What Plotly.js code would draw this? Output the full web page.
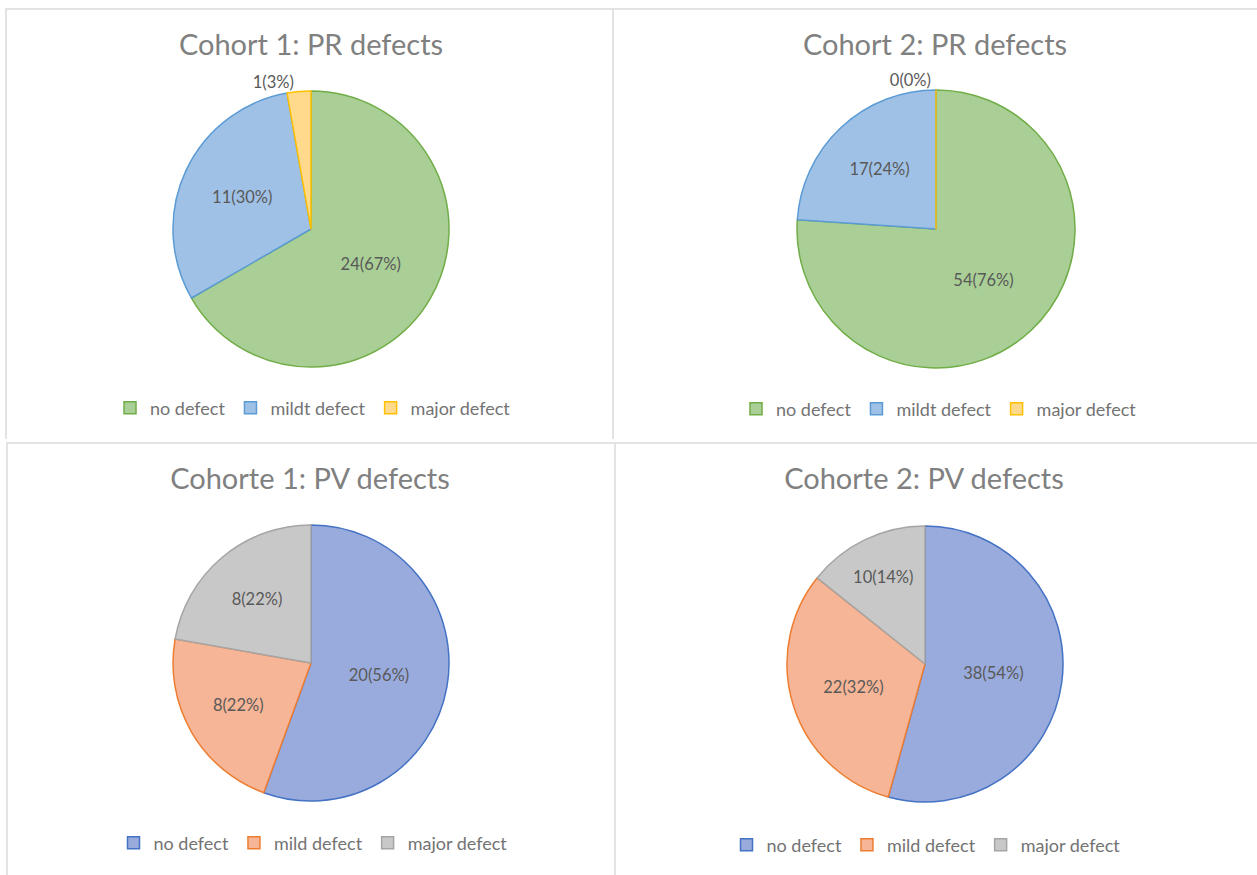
<!DOCTYPE html>
<html>
<head>
<meta charset="utf-8">
<script src="https://cdn.plot.ly/plotly-3.0.1.min.js"></script>
<style>
  html, body { margin: 0; padding: 0; background: #ffffff; width: 1257px; height: 875px; overflow: hidden; position: relative; }
  .panel { position: absolute; }
  .rule { position: absolute; background: #e3e3e3; }
</style>
</head>
<body>
<div class="rule" style="left:5px;top:8px;width:1252px;height:2px;"></div>
<div class="rule" style="left:5px;top:8px;width:2px;height:431px;"></div>
<div class="rule" style="left:612px;top:8px;width:2px;height:431px;"></div>
<div class="rule" style="left:6px;top:442px;width:1251px;height:2px;"></div>
<div class="rule" style="left:6px;top:442px;width:2px;height:433px;"></div>
<div class="rule" style="left:614px;top:442px;width:2px;height:433px;"></div>

<div id="p1" class="panel" style="left:7px;top:10px;width:605px;height:429px;"></div>
<div id="p2" class="panel" style="left:614px;top:10px;width:643px;height:429px;"></div>
<div id="p3" class="panel" style="left:8px;top:444px;width:606px;height:431px;"></div>
<div id="p4" class="panel" style="left:616px;top:444px;width:641px;height:431px;"></div>

<script>
// ---- data ----
const prLabels = ["no defect", "mildt defect", "major defect"];
const pvLabels = ["no defect", "mild defect", "major defect"];

const cohort1PRValues = [24, 11, 1];
const cohort1PRPercent = ["67%", "30%", "3%"];
const cohort2PRValues = [54, 17, 0];
const cohort2PRPercent = ["76%", "24%", "0%"];

const cohort1PVValues = [20, 8, 8];
const cohort1PVPercent = ["56%", "22%", "22%"];
const cohort2PVValues = [38, 22, 10];
const cohort2PVPercent = ["54%", "32%", "14%"];

const titles = ["Cohort 1: PR defects", "Cohort 2: PR defects", "Cohorte 1: PV defects", "Cohorte 2: PV defects"];

// ---- styles ----
const prFill = ["#aacf96", "#a0c1e6", "#ffda8c"];
const prLine = ["#70ad47", "#5b9bd5", "#ffc000"];
const pvFill = ["#99abdc", "#f5b596", "#c8c8c8"];
const pvLine = ["#4472c4", "#ed7d31", "#a5a5a5"];

const FONT = "Lato, 'Open Sans', sans-serif";

const panels = [
  {id: "p1", W: 605, H: 429, cx: 304, cy: 219, r: 138, tx: 304, ty: 35, lx: 306, ly: 398,
   labels: prLabels, values: cohort1PRValues, pct: cohort1PRPercent, fill: prFill, line: prLine,
   pos: ["inside", "inside", "outside"], title: titles[0]},
  {id: "p2", W: 643, H: 429, cx: 322, cy: 219, r: 139, tx: 321, ty: 35, lx: 325, ly: 399,
   labels: prLabels, values: cohort2PRValues, pct: cohort2PRPercent, fill: prFill, line: prLine,
   pos: ["inside", "inside", "outside"], title: titles[1]},
  {id: "p3", W: 606, H: 431, cx: 303, cy: 219, r: 138, tx: 302, ty: 35, lx: 305, ly: 399,
   labels: pvLabels, values: cohort1PVValues, pct: cohort1PVPercent, fill: pvFill, line: pvLine,
   pos: ["inside", "inside", "inside"], title: titles[2]},
  {id: "p4", W: 641, H: 431, cx: 309, cy: 220, r: 138, tx: 308, ty: 35, lx: 310, ly: 401,
   labels: pvLabels, values: cohort2PVValues, pct: cohort2PVPercent, fill: pvFill, line: pvLine,
   pos: ["inside", "inside", "inside"], title: titles[3]}
];

panels.forEach(p => {
  const trace = {
    type: "pie",
    labels: p.labels,
    values: p.values,
    text: p.pct,
    texttemplate: "%{value}(%{text})",
    textinfo: "text",
    textposition: p.pos,
    insidetextorientation: "horizontal",
    textfont: {family: FONT, size: 16.5, color: "#595959"},
    outsidetextfont: {family: FONT, size: 16.5, color: "#595959"},
    insidetextfont: {family: FONT, size: 16.5, color: "#595959"},
    sort: false,
    direction: "clockwise",
    rotation: 0,
    marker: {colors: p.fill, line: {color: p.line, width: 1.5}},
    hoverinfo: "skip",
    domain: {
      x: [(p.cx - p.r) / p.W, (p.cx + p.r) / p.W],
      y: [1 - (p.cy + p.r) / p.H, 1 - (p.cy - p.r) / p.H]
    }
  };
  const layout = {
    width: p.W, height: p.H,
    margin: {l: 0, r: 0, t: 0, b: 0},
    paper_bgcolor: "#ffffff",
    showlegend: true,
    title: {
      text: p.title, x: p.tx / p.W, xanchor: "center", xref: "paper",
      y: 1 - p.ty / p.H, yanchor: "middle", yref: "container",
      font: {family: FONT, size: 29, color: "#808080"}
    },
    legend: {
      orientation: "h", x: p.lx / p.W, xanchor: "center",
      y: 1 - p.ly / p.H, yanchor: "middle",
      font: {family: FONT, size: 18, color: "#737373"},
      itemwidth: 30, traceorder: "normal"
    },
    font: {family: FONT}
  };
  Plotly.newPlot(p.id, [trace], layout, {staticPlot: true, displayModeBar: false});
});
</script>
</body>
</html>
